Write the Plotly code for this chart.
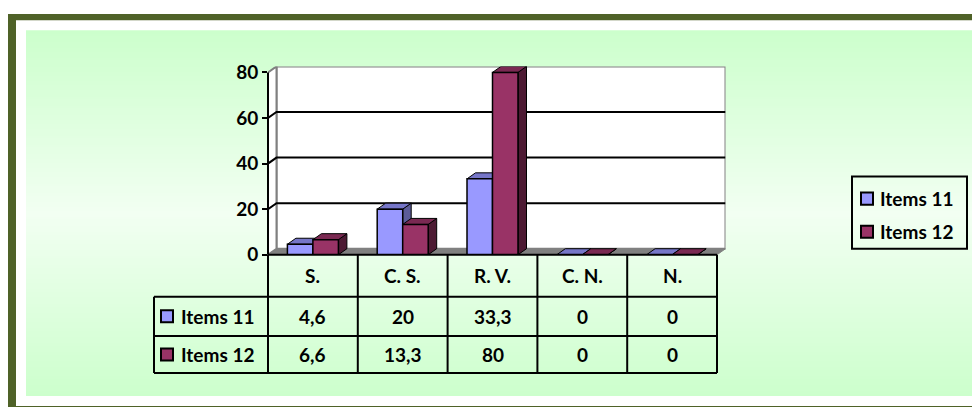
import plotly.graph_objects as go

# ---------------- data ----------------
categories = ["S.", "C. S.", "R. V.", "C. N.", "N."]
series_names = ["Items 11", "Items 12"]
items11 = [4.6, 20, 33.3, 0, 0]
items12 = [6.6, 13.3, 80, 0, 0]
y_ticks = [0, 20, 40, 60, 80]

series_values = [items11, items12]

# ---------------- styling ----------------
# screen-pixel -> figure-pixel calibration (page margin / capture scaling)
OFFX = 8
Y_B, Y_S = 12.7, 0.957
W, H = 972, 412
FONT = "Lato, 'Open Sans', sans-serif"
FS = 19
front_col = ["#9999FF", "#993366"]
top_col = ["#7676C8", "#7A2952"]
side_col = ["#5C5C99", "#4D1A33"]
OLIVE = "#4F6228"
GRAY = "#808080"

# geometry (screen pixels) of the front plane
X_LEFT = 268.0          # category -0.5
PX_PER_CAT = 89.8
Y_ZERO = 253.0          # value 0
PX_PER_UNIT = 2.275
DEPTH_X_PX, DEPTH_Y_PX = 8.5, 6.0
DX = DEPTH_X_PX / PX_PER_CAT
DY = DEPTH_Y_PX / PX_PER_UNIT
YMAX = 80


def PX(px):
    return (px - OFFX) / W


def PY(py):
    return 1 - ((py - Y_B) / Y_S) / H


xr = [-0.5, len(categories) - 0.5 + DX]
yr = [0, YMAX + DY]
xd = [PX(X_LEFT), PX(X_LEFT + (xr[1] - xr[0]) * PX_PER_CAT)]
yd = [PY(Y_ZERO), PY(Y_ZERO - yr[1] * PX_PER_UNIT)]


def xpaper(v):
    return xd[0] + (v - xr[0]) / (xr[1] - xr[0]) * (xd[1] - xd[0])


def ypaper(v):
    return yd[0] + (v - yr[0]) / (yr[1] - yr[0]) * (yd[1] - yd[0])


shapes = []

# ---------- frame and gradient background (paper, below) ----------
shapes.append(dict(type="rect", xref="paper", yref="paper", layer="below",
                   x0=PX(8), x1=1.0, y0=0.0, y1=1.0,
                   fillcolor=OLIVE, line=dict(width=0)))
shapes.append(dict(type="rect", xref="paper", yref="paper", layer="below",
                   x0=PX(16), x1=1.0, y0=max(PY(404), 0.0), y1=PY(19),
                   fillcolor="white", line=dict(width=0)))
g_top, g_bot, g_mid = 29, 394, 212
c_edge, c_mid = 204, 242
step = 3
y = g_top
while y < g_bot:
    yc = y + step / 2
    t = abs(yc - g_mid) / max(g_mid - g_top, g_bot - g_mid)
    c = round(c_mid - (c_mid - c_edge) * t)
    shapes.append(dict(type="rect", xref="paper", yref="paper", layer="below",
                       x0=PX(26), x1=PX(977), y0=PY(min(y + step + 0.6, g_bot)), y1=PY(y),
                       fillcolor=f"rgb({c},255,{c})", line=dict(width=0)))
    y += step

# ---------- 3D walls (data coords, below traces) ----------
x_l = xr[0]
x_r = len(categories) - 0.5
shapes.append(dict(type="rect", xref="x", yref="y", layer="below",
                   x0=x_l + DX, x1=x_r + DX, y0=DY, y1=YMAX + DY,
                   fillcolor="white", line=dict(color=GRAY, width=2)))
shapes.append(dict(type="path", xref="x", yref="y", layer="below",
                   path=f"M{x_l},0 L{x_l},{YMAX} L{x_l+DX},{YMAX+DY} L{x_l+DX},{DY} Z",
                   fillcolor="white", line=dict(color=GRAY, width=2)))
shapes.append(dict(type="path", xref="x", yref="y", layer="below",
                   path=f"M{x_l},0 L{x_r},0 L{x_r+DX},{DY} L{x_l+DX},{DY} Z",
                   fillcolor=GRAY, line=dict(color=GRAY, width=1)))
for v in y_ticks[1:-1]:
    shapes.append(dict(type="path", xref="x", yref="y", layer="below",
                       path=f"M{x_l},{v} L{x_l+DX},{v+DY} L{x_r+DX},{v+DY}",
                       line=dict(color="black", width=2)))

# ---------- bar top / side faces ----------
BW = 25.5 / PX_PER_CAT
offsets = [-BW, 0.0]
for i in range(len(categories)):
    for s, vals in enumerate(series_values):
        v = vals[i]
        x0 = i + offsets[s]
        x1 = x0 + BW
        shapes.append(dict(type="path", xref="x", yref="y", layer="below",
                           path=f"M{x1},0 L{x1},{v} L{x1+DX},{v+DY} L{x1+DX},{DY} Z",
                           fillcolor=side_col[s], line=dict(color="black", width=1)))
        shapes.append(dict(type="path", xref="x", yref="y", layer="below",
                           path=f"M{x0},{v} L{x1},{v} L{x1+DX},{v+DY} L{x0+DX},{v+DY} Z",
                           fillcolor=top_col[s], line=dict(color="black", width=1)))

# ---------- front value axis line ----------
shapes.append(dict(type="line", xref="paper", yref="paper",
                   x0=xpaper(x_l), x1=xpaper(x_l), y0=ypaper(0), y1=ypaper(YMAX),
                   line=dict(color="black", width=2)))

# ---------- data table ----------
row_px = [Y_ZERO, 295, 334, 371]
label_left = 154
tbl_right = xpaper(x_r)
shapes.append(dict(type="line", xref="paper", yref="paper",
                   x0=xpaper(x_l), x1=tbl_right, y0=PY(row_px[0]), y1=PY(row_px[0]),
                   line=dict(color="black", width=2)))
for r in row_px[1:]:
    shapes.append(dict(type="line", xref="paper", yref="paper",
                       x0=PX(label_left), x1=tbl_right, y0=PY(r), y1=PY(r),
                       line=dict(color="black", width=2)))
shapes.append(dict(type="line", xref="paper", yref="paper",
                   x0=PX(label_left), x1=PX(label_left), y0=PY(row_px[1]), y1=PY(row_px[3]),
                   line=dict(color="black", width=2)))
for i in range(len(categories) + 1):
    xe = xpaper(i - 0.5)
    shapes.append(dict(type="line", xref="paper", yref="paper",
                       x0=xe, x1=xe, y0=PY(row_px[0]), y1=PY(row_px[3]),
                       line=dict(color="black", width=2)))

annotations = []
hdr_y = (row_px[0] + row_px[1]) / 2
for i, c in enumerate(categories):
    annotations.append(dict(x=i, y=PY(hdr_y), xref="x", yref="paper", text=c,
                            showarrow=False, xanchor="center", yanchor="middle",
                            font=dict(family=FONT, size=FS, color="black", weight="bold")))


def fmt(v):
    return f"{v:g}".replace(".", ",")


for s, vals in enumerate(series_values):
    ry = (row_px[s + 1] + row_px[s + 2]) / 2
    for i, v in enumerate(vals):
        annotations.append(dict(x=i, y=PY(ry), xref="x", yref="paper", text=fmt(v),
                                showarrow=False, xanchor="center", yanchor="middle",
                                font=dict(family=FONT, size=FS, color="black", weight="bold")))
    # key square + label
    shapes.append(dict(type="rect", xref="paper", yref="paper",
                       x0=PX(161), x1=PX(173), y0=PY(ry + 6), y1=PY(ry - 6),
                       fillcolor=front_col[s], line=dict(color="black", width=2)))
    annotations.append(dict(x=PX(179), y=PY(ry), xref="paper", yref="paper",
                            text=series_names[s], showarrow=False,
                            xanchor="left", yanchor="middle",
                            font=dict(family=FONT, size=FS, color="black", weight="bold")))

# ---------- legend (right) ----------
shapes.append(dict(type="rect", xref="paper", yref="paper",
                   x0=PX(852), x1=PX(967), y0=PY(247), y1=PY(175),
                   line=dict(color="black", width=2)))
leg_y = [197, 230]
for s in range(len(series_names)):
    shapes.append(dict(type="rect", xref="paper", yref="paper",
                       x0=PX(861), x1=PX(873), y0=PY(leg_y[s] + 6), y1=PY(leg_y[s] - 6),
                       fillcolor=front_col[s], line=dict(color="black", width=2)))
    annotations.append(dict(x=PX(878), y=PY(leg_y[s]), xref="paper", yref="paper",
                            text=series_names[s], showarrow=False,
                            xanchor="left", yanchor="middle",
                            font=dict(family=FONT, size=FS, color="black", weight="bold")))

# ---------- bars (front faces) ----------
fig = go.Figure()
for s, vals in enumerate(series_values):
    fig.add_trace(go.Bar(
        x=list(range(len(categories))), y=vals, name=series_names[s],
        width=BW, offset=offsets[s],
        marker=dict(color=front_col[s], line=dict(color="black", width=1.5)),
        showlegend=False, hoverinfo="skip"))

fig.update_layout(
    width=W, height=H,
    margin=dict(l=0, r=0, t=0, b=0),
    paper_bgcolor="white",
    plot_bgcolor="rgba(0,0,0,0)",
    barmode="overlay",
    showlegend=False,
    xaxis=dict(domain=xd, range=xr, showticklabels=False, showgrid=False,
               zeroline=False, showline=False, ticks="", fixedrange=True),
    yaxis=dict(domain=yd, range=yr, tickvals=y_ticks, ticktext=[str(t) for t in y_ticks],
               showgrid=False, zeroline=False, showline=False,
               ticks="outside", ticklen=5, tickwidth=2, tickcolor="black",
               tickfont=dict(family=FONT, size=FS, color="black", weight="bold"),
               fixedrange=True),
    shapes=shapes,
    annotations=annotations,
)

fig.write_html("out.html")
